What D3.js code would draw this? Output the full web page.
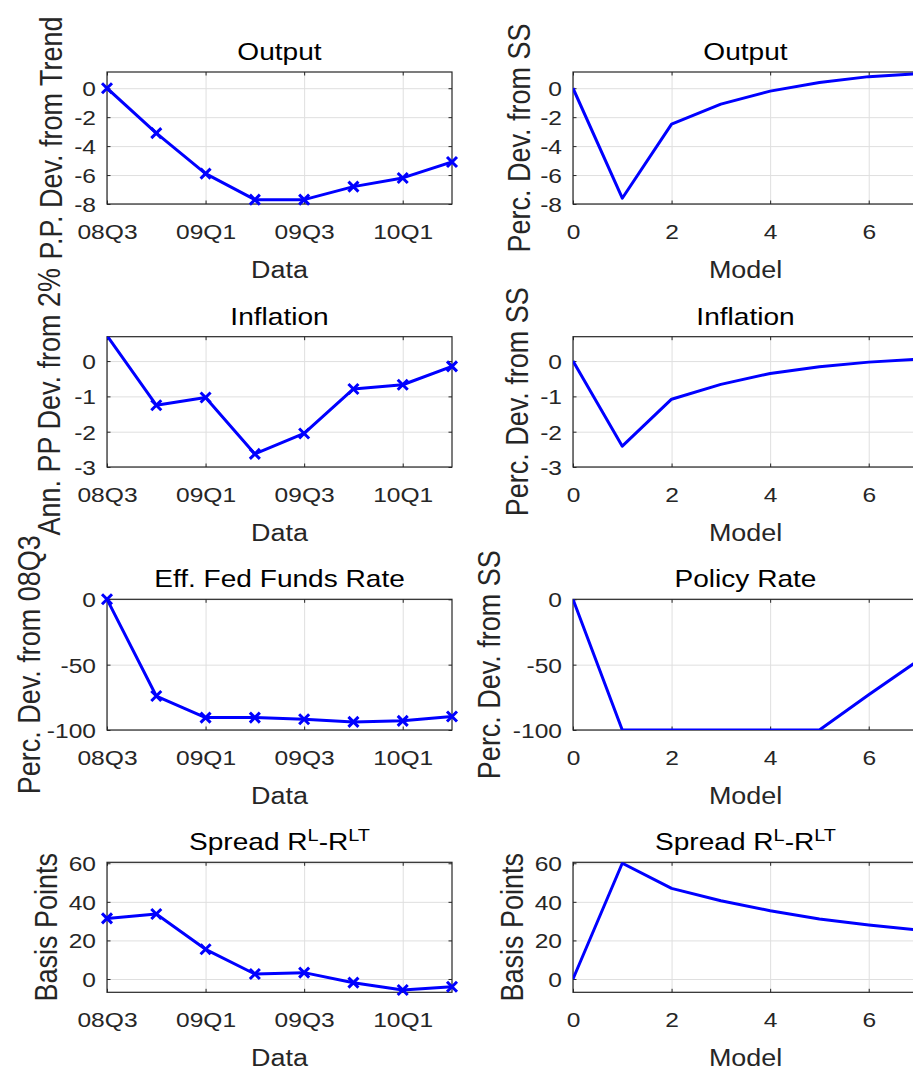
<!doctype html>
<html>
<head>
<meta charset="utf-8" />
<script src="https://d3js.org/d3.v7.min.js"></script>
<style>
  body{ margin:0; background:#fff; }
  svg text{ font-family:"Liberation Sans", Arial, sans-serif; }
</style>
</head>
<body>
<script>
// data
var quarters = ["08Q3","08Q4","09Q1","09Q2","09Q3","09Q4","10Q1","10Q2"];
var quarterTicks = [0, 2, 4, 6];
var dataOutput    = [0, -3.1, -5.9, -7.7, -7.7, -6.8, -6.2, -5.1];
var dataInflation = [0.72, -1.25, -1.03, -2.63, -2.05, -0.79, -0.67, -0.15];
var dataFedFunds  = [0, -74, -90.5, -90.5, -91.8, -93.8, -93, -89.7];
var dataSpread    = [31.4, 33.7, 15.4, 2.6, 3.3, -1.9, -5.7, -4.0];

var modelPeriods   = [0, 1, 2, 3, 4, 5, 6, 7];
var modelTicks     = [0, 2, 4, 6];
var modelOutput    = [0, -7.6, -2.48, -1.1, -0.2, 0.4, 0.8, 1.0];
var modelInflation = [0, -2.41, -1.08, -0.66, -0.35, -0.16, -0.03, 0.05];
var modelPolicy    = [0, -100, -100, -100, -100, -100, -73, -47];
var modelSpread    = [0, 60, 47, 40.6, 35.4, 31.1, 28, 25.4];

var dataTitles  = ["Output", "Inflation", "Eff. Fed Funds Rate", "Spread"];
var modelTitles = ["Output", "Inflation", "Policy Rate", "Spread"];
var dataYLabels  = ["P.P. Dev. from Trend", "Ann. PP Dev. from 2%", "Perc. Dev. from 08Q3", "Basis Points"];
var modelYLabels = ["Perc. Dev. from SS", "Perc. Dev. from SS", "Perc. Dev. from SS", "Basis Points"];
var yLimits = [[-8, 1.12], [-3, 0.69], [-100, 0], [-6.9, 60.5]];
var yTickVals = [[-8, -6, -4, -2, 0], [-3, -2, -1, 0], [-100, -50, 0], [0, 20, 40, 60]];

// layout
var W = 913, H = 1072;
var colLeft = [107, 573], plotW = 345;
var rowTop = [72, 336.7, 599.3, 862.3];
var rowBot = [204, 467, 730, 992.3];
var yLabelX = [[61.7, 60, 40, 56.7], [530, 528, 500, 523.3]];
var SX = 1.17; // horizontal text stretch seen in the picture
var dark = "#262626", gridCol = "#dfdfdf", blue = "#0000ff";

var svg = d3.select("body").append("svg").attr("width", W).attr("height", H);

function drawPanel(col, row, xs, ys, xTicks, xFmt, title, ylab, markers) {
  var x0 = colLeft[col], top = rowTop[row], bot = rowBot[row];
  var xScale = d3.scaleLinear().domain([0, 7]).range([x0, x0 + plotW]);
  var yScale = d3.scaleLinear().domain(yLimits[row]).range([bot, top]);
  var g = svg.append("g");
  var id = "clip" + col + row;

  g.append("clipPath").attr("id", id).append("rect")
    .attr("x", x0).attr("y", top).attr("width", plotW).attr("height", bot - top);

  // grid
  g.append("g").attr("transform", `translate(0,${bot})`)
    .call(d3.axisBottom(xScale).tickValues(xTicks).tickSize(-(bot - top)).tickFormat(""))
    .call(a => a.select(".domain").remove())
    .selectAll("line").attr("stroke", gridCol);
  g.append("g").attr("transform", `translate(${x0},0)`)
    .call(d3.axisLeft(yScale).tickValues(yTickVals[row]).tickSize(-plotW).tickFormat(""))
    .call(a => a.select(".domain").remove())
    .selectAll("line").attr("stroke", gridCol);

  // box
  g.append("rect").attr("x", x0).attr("y", top).attr("width", plotW).attr("height", bot - top)
    .attr("fill", "none").attr("stroke", dark).attr("stroke-width", 1.2);

  // ticks + labels
  var xb = g.append("g").attr("transform", `translate(0,${bot})`)
    .call(d3.axisBottom(xScale).tickValues(xTicks).tickSize(-3.5).tickSizeOuter(0).tickFormat(xFmt));
  xb.select(".domain").remove();
  xb.selectAll("line").attr("stroke", dark);
  xb.selectAll("text").attr("y", null).attr("dy", null)
    .attr("transform", `translate(0,35) scale(${SX},1)`)
    .attr("fill", dark).style("font-size", "21px").style("font-family", null);

  var xt = g.append("g").attr("transform", `translate(0,${top})`)
    .call(d3.axisTop(xScale).tickValues(xTicks).tickSize(-3.5).tickSizeOuter(0).tickFormat(""));
  xt.select(".domain").remove();
  xt.selectAll("line").attr("stroke", dark);

  var yl = g.append("g").attr("transform", `translate(${x0},0)`)
    .call(d3.axisLeft(yScale).tickValues(yTickVals[row]).tickSize(-3.5).tickSizeOuter(0)
      .tickFormat(d => String(d)));
  yl.select(".domain").remove();
  yl.selectAll("line").attr("stroke", dark);
  yl.selectAll("text").attr("x", null).attr("dy", null)
    .attr("transform", `translate(-11,7.5) scale(${SX},1)`)
    .attr("fill", dark).style("font-size", "21px").style("font-family", null);

  var yr = g.append("g").attr("transform", `translate(${x0 + plotW},0)`)
    .call(d3.axisRight(yScale).tickValues(yTickVals[row]).tickSize(-3.5).tickSizeOuter(0).tickFormat(""));
  yr.select(".domain").remove();
  yr.selectAll("line").attr("stroke", dark);

  // title
  var t = g.append("text")
    .attr("transform", `translate(${x0 + plotW / 2},${top - 12}) scale(${SX},1)`)
    .attr("text-anchor", "middle").attr("fill", "#000").style("font-size", "24px");
  if (title === "Spread") {
    t.append("tspan").text("Spread R");
    t.append("tspan").attr("dy", -9).style("font-size", "17px").text("L");
    t.append("tspan").attr("dy", 9).text("-R");
    t.append("tspan").attr("dy", -9).style("font-size", "17px").text("LT");
  } else {
    t.text(title);
  }

  // x label
  g.append("text")
    .attr("transform", `translate(${x0 + plotW / 2},${bot + 74}) scale(${SX},1)`)
    .attr("text-anchor", "middle").attr("fill", dark).style("font-size", "23px")
    .text(col === 0 ? "Data" : "Model");

  // y label
  g.append("text")
    .attr("transform", `translate(${yLabelX[col][row]},${(top + bot) / 2}) scale(${SX},1) rotate(-90)`)
    .attr("text-anchor", "middle").attr("fill", dark).style("font-size", "27px")
    .text(ylab);

  // series
  var pts = xs.map((v, i) => [v, ys[i]]);
  var line = d3.line().x(d => xScale(d[0])).y(d => yScale(d[1]));
  g.append("path").datum(pts).attr("d", line).attr("clip-path", `url(#${id})`)
    .attr("fill", "none").attr("stroke", blue).attr("stroke-width", 3).attr("stroke-linejoin", "round");

  if (markers) {
    var lim = yLimits[row];
    g.selectAll("path.mk").data(pts.filter(d => d[1] >= lim[0] && d[1] <= lim[1]))
      .enter().append("path").attr("class", "mk")
      .attr("transform", d => `translate(${xScale(d[0])},${yScale(d[1])})`)
      .attr("d", "M-5,-5L5,5M-5,5L5,-5")
      .attr("stroke", blue).attr("stroke-width", 3).attr("fill", "none");
  }
}

var quarterIdx = quarters.map((q, i) => i);
var dataSeries = [dataOutput, dataInflation, dataFedFunds, dataSpread];
var modelSeries = [modelOutput, modelInflation, modelPolicy, modelSpread];

for (var r = 0; r < 4; r++) {
  drawPanel(0, r, quarterIdx, dataSeries[r], quarterTicks, i => quarters[i], dataTitles[r], dataYLabels[r], true);
  drawPanel(1, r, modelPeriods, modelSeries[r], modelTicks, d => String(d), modelTitles[r], modelYLabels[r], false);
}
</script>
</body>
</html>
